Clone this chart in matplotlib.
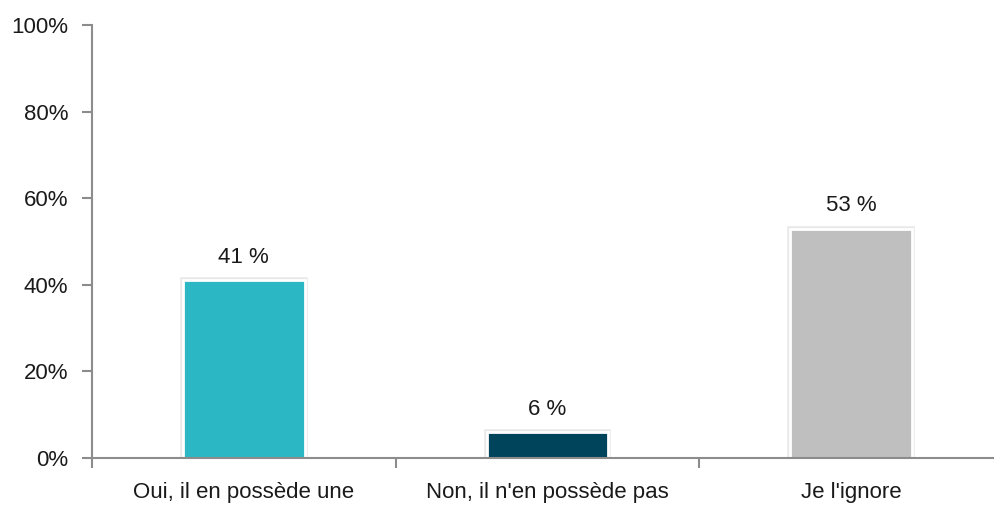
import matplotlib.pyplot as plt
import matplotlib.patheffects as pe
from matplotlib.ticker import FixedLocator, NullFormatter

categories = ["Oui, il en possède une", "Non, il n'en possède pas", "Je l'ignore"]
values = [41, 6, 53]
colors = ["#2BB7C4", "#00445C", "#BFBFBF"]
yticks = [0, 20, 40, 60, 80, 100]

plt.rcParams['font.family'] = ['Liberation Sans Narrow', 'Liberation Sans', 'DejaVu Sans']

W, H = 995, 508
fig = plt.figure(figsize=(W / 100, H / 100), dpi=100)
left, right, top, bottom = 92, 1003, 25, 458
ax = fig.add_axes([left / W, 1 - bottom / H, (right - left) / W, (bottom - top) / H])

x = range(len(categories))
bars = ax.bar(x, values, width=0.4, color=colors, edgecolor="white", linewidth=2, zorder=3)
# faint grey halo around each bar, like the original
for b in bars:
    b.set_path_effects([pe.Stroke(linewidth=4, foreground="#e8e8e8"), pe.Normal()])

for xi, v in zip(x, values):
    ax.text(xi, v + 2.8, f"{v} %", ha="center", va="bottom", fontsize=16, color="#1a1a1a")

ax.set_xlim(-0.5, 2.5)
ax.set_ylim(0, 100)
ax.set_yticks(yticks)
ax.set_yticklabels([f"{t}%" for t in yticks], fontsize=16, color="#1a1a1a")
ax.set_xticks(list(x))
ax.set_xticklabels(categories, fontsize=16, color="#1a1a1a")
ax.tick_params(axis="x", length=0, pad=17)
ax.xaxis.set_minor_locator(FixedLocator([-0.5, 0.5, 1.5, 2.5]))
ax.xaxis.set_minor_formatter(NullFormatter())
ax.tick_params(axis="x", which="minor", length=7, width=1.5, color="#8c8c8c")
ax.tick_params(axis="y", length=7, width=1.5, color="#8c8c8c", pad=10)

for s in ["top", "right"]:
    ax.spines[s].set_visible(False)
for s in ["left", "bottom"]:
    ax.spines[s].set_color("#8c8c8c")
    ax.spines[s].set_linewidth(1.5)
    ax.spines[s].set_zorder(4)

fig.savefig("out.png", dpi=100)
